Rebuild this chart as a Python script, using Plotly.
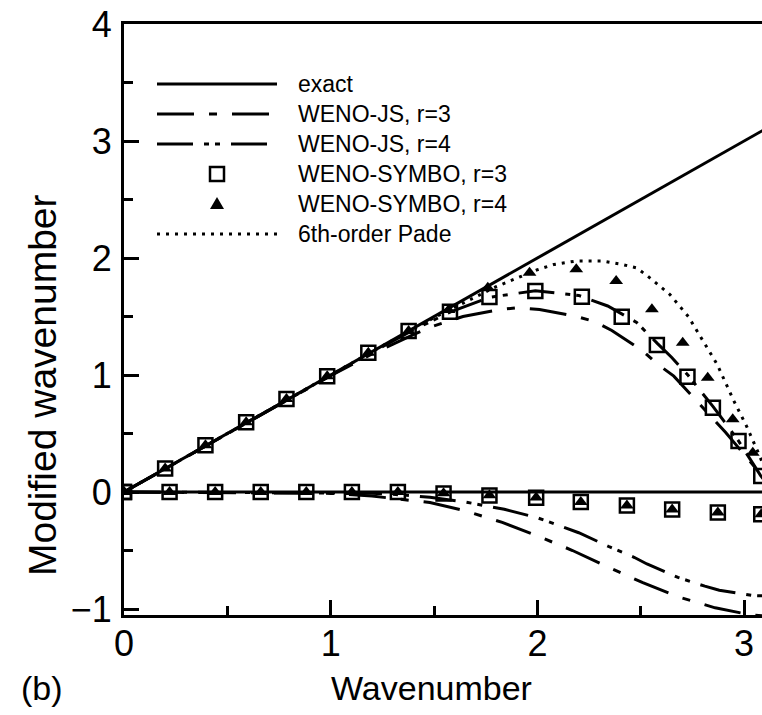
import plotly.graph_objects as go

# ---------------- data ----------------
exact_k = [0, 3.1416]
exact_re = [0, 3.1416]
exact_im = [0, 0]

js3_re_k = [0, 0.4, 0.8, 1.0, 1.2, 1.4, 1.5, 1.64, 1.82, 1.91, 2.01, 2.19, 2.28, 2.36, 2.51, 2.58, 2.66, 2.78, 2.91, 3.02, 3.1416]
js3_re_v = [0, 0.4, 0.8, 0.995, 1.18, 1.345, 1.42, 1.50, 1.56, 1.575, 1.56, 1.50, 1.455, 1.38, 1.205, 1.095, 0.99, 0.76, 0.51, 0.28, 0.02]

js4_re_k = [0, 0.8, 1.2, 1.4, 1.58, 1.77, 1.99, 2.2, 2.34, 2.41, 2.48, 2.58, 2.65, 2.73, 2.85, 2.97, 3.08, 3.1416]
js4_re_v = [0, 0.8, 1.195, 1.385, 1.54, 1.665, 1.72, 1.68, 1.59, 1.52, 1.45, 1.27, 1.15, 0.995, 0.73, 0.445, 0.14, 0.0]

js3_im_k = [0, 0.8, 1.0, 1.2, 1.3, 1.48, 1.65, 1.83, 2.0, 2.17, 2.34, 2.51, 2.68, 2.86, 3.03, 3.1416]
js3_im_v = [0, -0.005, -0.012, -0.035, -0.055, -0.09, -0.16, -0.26, -0.375, -0.50, -0.64, -0.775, -0.895, -0.99, -1.05, -1.065]

js4_im_k = [0, 1.0, 1.2, 1.35, 1.48, 1.65, 1.84, 2.0, 2.13, 2.2, 2.35, 2.47, 2.53, 2.68, 2.81, 2.88, 3.04, 3.1416]
js4_im_v = [0, -0.003, -0.01, -0.025, -0.045, -0.085, -0.148, -0.22, -0.30, -0.348, -0.47, -0.56, -0.615, -0.73, -0.805, -0.84, -0.885, -0.89]

pade_k = [0, 0.8, 1.2, 1.5, 1.6, 1.8, 2.0, 2.08, 2.19, 2.31, 2.41, 2.48, 2.53, 2.64, 2.73, 2.80, 2.87, 2.95, 3.01, 3.07, 3.1416]
pade_v = [0, 0.8, 1.2, 1.49, 1.58, 1.755, 1.9, 1.945, 1.975, 1.975, 1.945, 1.915, 1.85, 1.69, 1.50, 1.30, 1.09, 0.78, 0.57, 0.33, 0.02]

sym3_re_k = [0, 0.199, 0.394, 0.591, 0.786, 0.983, 1.182, 1.377, 1.577, 1.768, 1.990, 2.215, 2.408, 2.578, 2.726, 2.849, 2.973, 3.083]
sym3_re_v = [0, 0.2, 0.4, 0.596, 0.795, 0.99, 1.19, 1.376, 1.541, 1.667, 1.718, 1.669, 1.498, 1.256, 0.985, 0.720, 0.436, 0.137]

sym4_re_k = [0, 0.199, 0.394, 0.591, 0.786, 0.983, 1.182, 1.377, 1.570, 1.760, 1.962, 2.188, 2.381, 2.554, 2.703, 2.824, 2.945, 3.042]
sym4_re_v = [0, 0.2, 0.4, 0.596, 0.795, 0.99, 1.19, 1.376, 1.555, 1.745, 1.874, 1.903, 1.803, 1.561, 1.276, 0.977, 0.621, 0.336]

sym_im_k = [0, 0.2205, 0.441, 0.6615, 0.882, 1.1025, 1.325, 1.546, 1.768, 1.994, 2.21, 2.433, 2.652, 2.873, 3.083]
sym3_im_v = [0, 0, 0, 0, 0, 0, 0.0, -0.012, -0.03, -0.05, -0.085, -0.115, -0.15, -0.175, -0.19]
sym4_im_v = [0, 0, 0, 0, 0, 0, 0.0, -0.01, -0.028, -0.048, -0.085, -0.115, -0.15, -0.175, -0.19]

x_ticks = [0, 1, 2, 3]
y_ticks = [-1, 0, 1, 2, 3, 4]

legend_labels = ["exact", "WENO-JS, r=3", "WENO-JS, r=4",
                 "WENO-SYMBO, r=3", "WENO-SYMBO, r=4", "6th-order Pade"]

# ---------------- styles ----------------
FONT = "Liberation Sans, Arial, Helvetica, sans-serif"
LW = 3
DASH_JS3 = "37px,15px,8px,15px"
DASH_JS4 = "36px,11px,5px,6px,5px,11px"
DASH_PADE = "3px,6px"

fig = go.Figure()

def line(x, y, dash):
    fig.add_trace(go.Scatter(x=x, y=y, mode="lines",
                             line=dict(color="black", width=LW, dash=dash),
                             showlegend=False, hoverinfo="skip"))

line(exact_k, exact_re, "solid")
line(exact_k, exact_im, "solid")
line(js3_re_k, js3_re_v, DASH_JS3)
line(js3_im_k, js3_im_v, DASH_JS3)
line(js4_re_k, js4_re_v, DASH_JS4)
line(js4_im_k, js4_im_v, DASH_JS4)
line(pade_k, pade_v, DASH_PADE)

sq = dict(symbol="square-open", size=14, color="black", line=dict(width=2.5, color="black"))
tri = dict(symbol="triangle-up", size=12, color="black", line=dict(width=0))
for kx, vy in [(sym3_re_k, sym3_re_v), (sym_im_k, sym3_im_v)]:
    fig.add_trace(go.Scatter(x=kx, y=vy, mode="markers", marker=sq,
                             showlegend=False, hoverinfo="skip"))
for kx, vy in [(sym4_re_k, sym4_re_v), (sym_im_k, sym4_im_v)]:
    fig.add_trace(go.Scatter(x=kx, y=vy, mode="markers", marker=tri,
                             showlegend=False, hoverinfo="skip"))

# ---------------- layout ----------------
L, R, T, B = 124, 0, 24, 100
W, H = 762, 715
PXU_X = 206.7
PXU_Y = 117.0
x_max = (W - L - R) / PXU_X
y_min = 4 - (H - T - B) / PXU_Y

axis_common = dict(showline=True, linewidth=3, linecolor="black",
                   ticks="inside", tickwidth=2.5, tickcolor="black", ticklen=15,
                   showgrid=False, zeroline=False,
                   tickfont=dict(family=FONT, size=36, color="black"))

fig.update_layout(
    width=W, height=H,
    margin=dict(l=L, r=R, t=T, b=B, autoexpand=False),
    paper_bgcolor="white", plot_bgcolor="white",
    showlegend=False,
    xaxis=dict(range=[0, x_max], tickvals=x_ticks, mirror=True,
               minor=dict(dtick=0.5, ticks="inside", ticklen=9, tickwidth=2.5, tickcolor="black"),
               ticklabelstandoff=-5, **axis_common),
    yaxis=dict(range=[y_min, 4], tickvals=y_ticks,
               minor=dict(dtick=0.5, ticks="inside", ticklen=9, tickwidth=2.5, tickcolor="black"),
               ticklabelstandoff=2, **axis_common),
)

def px2paper_x(px):
    return (px - L) / (W - L - R)

def py2paper_y(py):
    return (H - B - py) / (H - T - B)

# axis titles and panel label
fig.add_annotation(text="Wavenumber", x=px2paper_x(431), y=py2paper_y(688),
                   xref="paper", yref="paper", showarrow=False,
                   xanchor="center", yanchor="middle",
                   font=dict(family=FONT, size=34, color="black"))
fig.add_annotation(text="Modified wavenumber", x=px2paper_x(42), y=py2paper_y(385),
                   xref="paper", yref="paper", showarrow=False, textangle=-90,
                   xanchor="center", yanchor="middle",
                   font=dict(family=FONT, size=39, color="black"))
fig.add_annotation(text="(b)", x=px2paper_x(42), y=py2paper_y(688),
                   xref="paper", yref="paper", showarrow=False,
                   xanchor="center", yanchor="middle",
                   font=dict(family=FONT, size=34, color="black"))

# ---------------- manual legend ----------------
rows_py = [84, 114, 144, 174, 204, 234]
lx0, lx1, lmark, ltext = px2paper_x(157), px2paper_x(277), px2paper_x(217), px2paper_x(296)
styles = ["solid", DASH_JS3, DASH_JS4, None, None, DASH_PADE]
for lab, py, st in zip(legend_labels, rows_py, styles):
    yy = py2paper_y(py)
    if st is not None:
        fig.add_shape(type="line", xref="paper", yref="paper",
                      x0=lx0, x1=lx1, y0=yy, y1=yy,
                      line=dict(color="black", width=LW, dash=st))
    fig.add_annotation(text=lab, x=ltext, y=yy, xref="paper", yref="paper",
                       xanchor="left", yanchor="middle", showarrow=False,
                       font=dict(family=FONT, size=23, color="black"))

# square key
fig.add_shape(type="rect", xref="paper", yref="paper",
              xsizemode="pixel", ysizemode="pixel",
              xanchor=lmark, yanchor=py2paper_y(rows_py[3]),
              x0=-7, x1=7, y0=-7, y1=7,
              line=dict(color="black", width=2.5), fillcolor="rgba(0,0,0,0)")
# triangle key
fig.add_shape(type="path", xref="paper", yref="paper",
              xsizemode="pixel", ysizemode="pixel",
              xanchor=lmark, yanchor=py2paper_y(rows_py[4]),
              path="M-7,-5 L7,-5 L0,7 Z",
              line=dict(color="black", width=0), fillcolor="black")

fig.write_html("out.html")
